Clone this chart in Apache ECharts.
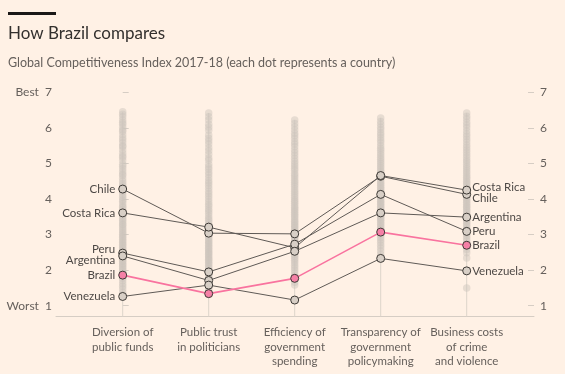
<!DOCTYPE html>
<html>
<head>
<meta charset="utf-8">
<script src="https://cdn.jsdelivr.net/npm/echarts@6/dist/echarts.min.js"></script>
<style>
html,body{margin:0;padding:0;background:#fff1e5;}
#c{width:565px;height:374px;}
</style>
</head>
<body>
<div id="c"></div>
<script>
const categories = ['Diversion of\npublic funds','Public trust\nin politicians','Efficiency of\ngovernment\nspending','Transparency of\ngovernment\npolicymaking','Business costs\nof crime\nand violence'];
const yTicks = [1,2,3,4,5,6,7];
const yMin = 0.7, yMax = 7;

const countries = ['Chile','Costa Rica','Peru','Argentina','Venezuela','Brazil'];
const chile     = [4.28, 3.04, 3.02, 4.64, 4.13];
const costaRica = [3.61, 3.21, 2.63, 4.66, 4.25];
const peru      = [2.48, 1.95, 2.73, 4.13, 3.09];
const argentina = [2.40, 1.71, 2.53, 3.61, 3.49];
const venezuela = [1.26, 1.58, 1.16, 2.33, 1.98];
const brazil    = [1.86, 1.34, 1.77, 3.07, 2.70];

// all countries (grey dots)
const dotsDiversion = [6.45,6.38,6.31,6.22,6.15,6.1,6.02,5.94,5.9,5.81,5.72,5.66,5.58,5.5,5.47,5.38,5.29,5.21,5.17,5.08,4.98,4.92,4.85,4.77,4.7,4.66,4.58,4.5,4.43,4.37,4.31,4.24,4.2,4.12,4.05,3.98,3.94,3.87,3.8,3.76,3.7,3.63,3.57,3.52,3.46,3.41,3.36,3.3,3.27,3.21,3.16,3.11,3.05,3.01,2.96,2.92,2.87,2.82,2.78,2.73,2.69,2.64,2.6,2.55,2.51,2.46,2.42,2.37,2.33,2.28,2.24,2.19,2.15,2.1,2.06,2.01,1.96,1.9,1.84,1.77,1.7,1.62,1.55,1.47,1.38,1.3];
const dotsTrust = [6.42,6.31,6.22,6.1,6.02,5.93,5.8,5.71,5.63,5.55,5.44,5.36,5.26,5.15,5.09,4.98,4.9,4.84,4.75,4.68,4.6,4.51,4.45,4.38,4.3,4.22,4.15,4.08,4.0,3.92,3.85,3.8,3.72,3.66,3.6,3.52,3.45,3.4,3.33,3.27,3.2,3.14,3.08,3.03,2.98,2.93,2.88,2.83,2.79,2.74,2.7,2.65,2.61,2.57,2.52,2.48,2.44,2.4,2.35,2.31,2.27,2.22,2.18,2.13,2.09,2.04,2.0,1.95,1.9,1.85,1.8,1.74,1.68,1.62,1.56,1.5,1.43,1.36];
const dotsEfficiency = [6.22,6.12,6.03,5.94,5.85,5.78,5.7,5.61,5.55,5.47,5.38,5.3,5.22,5.14,5.06,4.99,4.93,4.86,4.8,4.72,4.66,4.6,4.53,4.47,4.41,4.35,4.28,4.22,4.16,4.1,4.04,3.98,3.93,3.88,3.82,3.77,3.72,3.67,3.62,3.57,3.52,3.47,3.42,3.37,3.33,3.28,3.24,3.19,3.15,3.1,3.06,3.01,2.97,2.92,2.88,2.83,2.78,2.74,2.69,2.64,2.59,2.55,2.5,2.44,2.39,2.33,2.27,2.21,2.14,2.07,2.0,1.92,1.84,1.75,1.66,1.58];
const dotsTransparency = [6.28,6.18,6.1,6.02,5.95,5.86,5.8,5.72,5.65,5.58,5.5,5.43,5.37,5.3,5.24,5.17,5.11,5.05,4.99,4.93,4.87,4.81,4.76,4.7,4.64,4.59,4.54,4.48,4.43,4.38,4.33,4.28,4.23,4.18,4.13,4.08,4.03,3.98,3.94,3.89,3.85,3.8,3.76,3.71,3.67,3.62,3.58,3.53,3.49,3.44,3.4,3.35,3.3,3.25,3.2,3.15,3.1,3.04,2.98,2.92,2.85,2.78,2.7,2.62,2.54,2.45,2.36];
const dotsCrime = [6.42,6.33,6.25,6.16,6.08,6.0,5.91,5.83,5.76,5.68,5.6,5.52,5.45,5.38,5.31,5.24,5.17,5.1,5.04,4.97,4.91,4.85,4.79,4.73,4.67,4.61,4.56,4.5,4.45,4.4,4.34,4.29,4.24,4.19,4.14,4.09,4.04,3.99,3.95,3.9,3.85,3.8,3.76,3.71,3.66,3.61,3.56,3.51,3.46,3.41,3.36,3.31,3.26,3.2,3.14,3.08,3.02,2.96,2.89,2.82,2.74,2.66,2.58,2.49,2.34,1.5];

const dotColumns = [dotsDiversion, dotsTrust, dotsEfficiency, dotsTransparency, dotsCrime];
const countryValues = [chile, costaRica, peru, argentina, venezuela, brazil];
const leftOffsets  = {'Peru':[0,-4],'Argentina':[0,4]};
const rightOffsets = {'Costa Rica':[0,-3],'Chile':[0,4]};

const labelColor = '#4d4845';
const axisGrey = '#66605c';
const font = 'Lato';

const dotData = [];
dotColumns.forEach((col, i) => col.forEach(v => dotData.push([i, v])));
const colTops = dotColumns.map((col, i) => [i, Math.max.apply(null, col)]);

const countrySeries = countries.map((name, k) => {
  const isBrazil = name === 'Brazil';
  const vals = countryValues[k];
  return {
    type: 'line',
    name: name,
    xAxisIndex: 0, yAxisIndex: 0,
    z: isBrazil ? 6 : 4,
    symbol: 'circle',
    symbolSize: 8,
    lineStyle: {color: isBrazil ? '#f9739f' : '#5f5a56', width: isBrazil ? 1.6 : 1},
    itemStyle: {color: isBrazil ? '#f580a6' : '#d8cfc6', borderColor: '#3d3935', borderWidth: 1},
    emphasis: {disabled: true},
    animation: false,
    data: vals.map((v, i) => {
      const item = {value: [i, v]};
      if (i === 0) {
        item.label = {show: true, position: 'left', distance: 3, formatter: name,
          offset: leftOffsets[name] || [0,0], color: labelColor, fontFamily: font, fontSize: 11.5};
      } else if (i === vals.length - 1) {
        item.label = {show: true, position: 'right', distance: 1, formatter: name,
          offset: rightOffsets[name] || [0,0], color: labelColor, fontFamily: font, fontSize: 11.5};
      }
      return item;
    })
  };
});

const chart = echarts.init(document.getElementById('c'), null, {renderer: 'canvas'});
chart.setOption({
  backgroundColor: '#fff1e5',
  animation: false,
  graphic: [
    {type: 'rect', left: 8, top: 12, shape: {width: 48, height: 3}, style: {fill: '#1a1817'}},
  ],
  title: [
    {text: 'How Brazil compares', left: 8, top: 25, padding: 0, textStyle: {fontFamily: font, fontSize: 17, fontWeight: 'normal', color: '#33302e'}},
    {text: 'Global Competitiveness Index 2017-18 (each dot represents a country)', left: 8, top: 56, padding: 0, textStyle: {fontFamily: font, fontSize: 12.5, fontWeight: 'normal', color: '#66605c'}}
  ],
  grid: [
    {left: 56, right: 31, top: 92.3, bottom: 57.6},
    {left: 122.7, right: 98.3, top: 92.3, bottom: 57.6}
  ],
  xAxis: [
    {type: 'value', gridIndex: 0, min: -0.7756, max: 4.7826,
     axisLine: {show: true, lineStyle: {color: '#d6cdc4', width: 1}},
     axisTick: {show: false}, axisLabel: {show: false}, splitLine: {show: false}},
    {type: 'category', gridIndex: 1, data: categories, boundaryGap: false,
     axisLine: {show: false}, axisTick: {show: false}, splitLine: {show: false},
     axisLabel: {interval: 0, margin: 9, color: axisGrey, fontFamily: font, fontSize: 11.5, lineHeight: 14.5, align: 'center'}}
  ],
  yAxis: [
    {type: 'value', gridIndex: 0, position: 'left', min: yMin, max: yMax,
     axisLine: {show: false}, splitLine: {show: false},
     axisTick: {show: true, inside: true, length: 6, customValues: yTicks, lineStyle: {color: '#d6cdc4'}},
     axisLabel: {customValues: yTicks, margin: 4, color: axisGrey, fontFamily: font, fontSize: 12,
       formatter: v => v === 7 ? 'Best  7' : (v === 1 ? 'Worst  1' : String(v))}},
    {type: 'value', gridIndex: 0, position: 'right', min: yMin, max: yMax,
     axisLine: {show: false}, splitLine: {show: false},
     axisTick: {show: true, inside: true, length: 6, customValues: yTicks, lineStyle: {color: '#d6cdc4'}},
     axisLabel: {customValues: yTicks, margin: 6, color: axisGrey, fontFamily: font, fontSize: 12}},
    {type: 'value', gridIndex: 1, min: yMin, max: yMax, show: false}
  ],
  series: [
    {
      type: 'custom', xAxisIndex: 0, yAxisIndex: 0, z: 1, silent: true,
      data: colTops,
      renderItem: (params, api) => {
        const top = api.coord([api.value(0), api.value(1)]);
        const bot = api.coord([api.value(0), yMin]);
        return {type: 'line', shape: {x1: top[0], y1: top[1], x2: bot[0], y2: bot[1]},
          style: {stroke: '#ddd4cb', lineWidth: 1}};
      }
    },
    {
      type: 'scatter', xAxisIndex: 0, yAxisIndex: 0, z: 2, silent: true,
      symbol: 'circle', symbolSize: 7.5,
      itemStyle: {color: 'rgba(205,197,189,0.6)'},
      data: dotData
    }
  ].concat(countrySeries)
});
</script>
</body>
</html>
